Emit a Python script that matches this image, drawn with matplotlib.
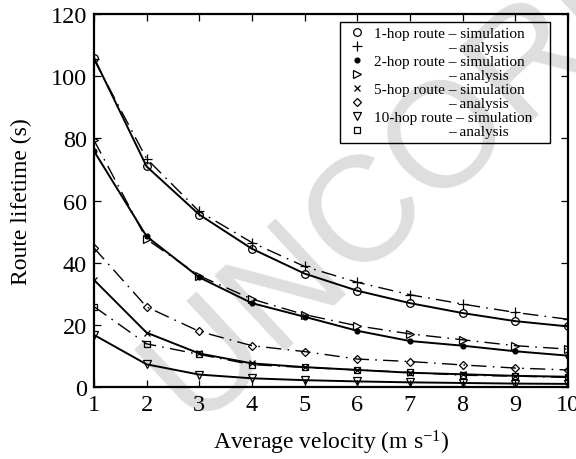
import matplotlib
matplotlib.use("Agg")
import matplotlib.pyplot as plt
from matplotlib.lines import Line2D
from matplotlib.patches import Rectangle

plt.rcParams['font.family'] = ['Liberation Serif', 'DejaVu Serif']
plt.rcParams['mathtext.fontset'] = 'custom'
plt.rcParams['mathtext.rm'] = 'Liberation Serif'
plt.rcParams['mathtext.it'] = 'Liberation Serif:italic'

# Average node velocity (m/s)
velocity = [1, 2, 3, 4, 5, 6, 7, 8, 9, 10]

# Route lifetime (s)
hop1_sim = [106, 71, 55.5, 44.5, 36.5, 31, 27, 23.8, 21.2, 19.5]
hop1_ana = [105.5, 73.5, 56.5, 46.5, 38.8, 33.7, 29.7, 26.7, 24.0, 21.8]
hop2_sim = [76, 48.5, 35.3, 27, 22.6, 18.1, 14.8, 13.3, 11.5, 10.1]
hop2_ana = [79.5, 47.6, 35.8, 28.3, 23.3, 19.7, 17.1, 15.2, 13.3, 12.2]
hop5_sim = [34.5, 17.5, 10.8, 7.6, 6.4, 5.5, 4.6, 4.1, 3.6, 3.3]
hop5_ana = [44.8, 25.8, 17.9, 13.3, 11.4, 9.0, 8.2, 7.1, 6.1, 5.5]
hop10_sim = [16.8, 7.3, 4.0, 2.8, 2.2, 1.8, 1.5, 1.3, 1.1, 1.0]
hop10_ana = [25.9, 13.9, 10.5, 7.2, 6.3, 5.5, 4.7, 3.8, 3.5, 3.1]

labels = ["1-hop route \u2013 simulation", "\u2013 analysis",
          "2-hop route \u2013 simulation", "\u2013 analysis",
          "5-hop route \u2013 simulation", "\u2013 analysis",
          "10-hop route \u2013 simulation", "\u2013 analysis"]

series = [hop1_sim, hop1_ana, hop2_sim, hop2_ana,
          hop5_sim, hop5_ana, hop10_sim, hop10_ana]
markers = ['o', '+', 'o', '>', 'x', 'D', 'v', 's']
msizes = [5.5, 6.5, 3.5, 5.5, 4.5, 4.5, 5.5, 4.5]
filled = [False, False, True, False, False, False, False, False]

W, H = 576, 460
fig = plt.figure(figsize=(W / 100, H / 100), dpi=100)
ax = fig.add_axes([0.163, 0.1565, 0.823, 0.8105])
ax.patch.set_alpha(0)

# light grey watermark behind the plot
fig.text(0.342, 0.059, "UNCORRECTED PROOF", rotation=43, rotation_mode='anchor',
         ha='left', va='baseline', fontsize=108, color='#dedede',
         family='Liberation Sans', zorder=-5)

handles = []
for i, (vals, mk, ms, fl) in enumerate(zip(series, markers, msizes, filled)):
    analysis = (i % 2 == 1)
    kw = dict(color='black', marker=mk, markersize=ms,
              markerfacecolor='black' if fl else 'none',
              markeredgecolor='black', markeredgewidth=0.9)
    if analysis:
        ax.plot(velocity, vals, lw=1.0, linestyle=(0, (11, 4.5, 1.2, 4.5)), **kw)
    else:
        ax.plot(velocity, vals, lw=1.4, linestyle='-', **kw)
    handles.append(Line2D([], [], linestyle='none', **kw))

ax.set_xlim(1, 10)
ax.set_ylim(0, 120)
ax.set_xticks(range(1, 11))
ax.set_yticks(range(0, 121, 20))
ax.tick_params(direction='in', top=True, right=True, labelsize=17.5,
               length=5, width=0.9, pad=5)
for sp in ax.spines.values():
    sp.set_linewidth(1.6)

ax.set_xlabel("Average velocity (m s$^{-1}$)", fontsize=17, labelpad=9)
ax.set_ylabel("Route lifetime (s)", fontsize=17, labelpad=13)

leg = ax.legend(handles, labels, loc='upper left', fontsize=11,
                frameon=False, borderpad=0.3,
                labelspacing=0.02, handlelength=1.6, handletextpad=0.3,
                bbox_to_anchor=(0.519, 0.9786), borderaxespad=0)

fig.canvas.draw()
renderer = fig.canvas.get_renderer()

# line up "– analysis" with the dash of the first simulation entry
texts = leg.get_texts()
probe = fig.text(0, 0, "\u2013 simulation", fontsize=11)
w_tail = probe.get_window_extent(renderer).width
probe.remove()
ref = texts[0].get_window_extent(renderer)
dash_x = ref.x1 - w_tail
for t in texts[1::2]:
    e = t.get_window_extent(renderer)
    t.set_x(t.get_position()[0] + (dash_x - e.x0))

# legend box with a wider right margin
lb = leg.get_window_extent(renderer)
right_px = ax.transAxes.transform((0.962, 0))[0]
fig.add_artist(Rectangle((lb.x0 / W, lb.y0 / H), (right_px - lb.x0) / W,
                         lb.height / H, transform=fig.transFigure,
                         fill=False, edgecolor='black', linewidth=1.0))

fig.savefig("out.png", dpi=100)
